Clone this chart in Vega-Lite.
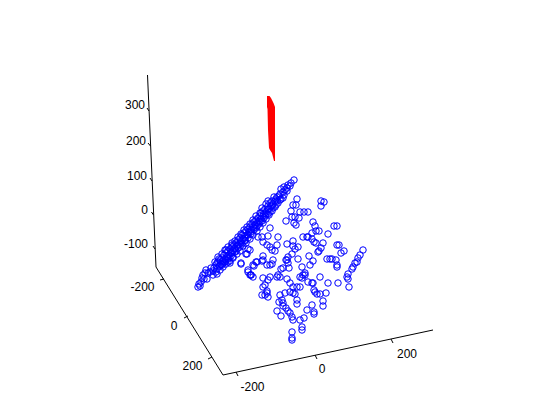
{"$schema":"https://vega.github.io/schema/vega-lite/v6.json","width":560,"height":420,"autosize":{"type":"fit","contains":"padding"},"padding":0,"background":"white","config":{"view":{"stroke":null}},
"datasets":{
"red":[{"v":96,"a":267,"b":269.5},{"v":98,"a":267,"b":271},{"v":100,"a":267,"b":272},{"v":103,"a":267,"b":273.5},{"v":107,"a":267,"b":275},{"v":109,"a":267.5,"b":275},{"v":130,"a":268,"b":275},{"v":148,"a":269,"b":275},{"v":150,"a":270,"b":275},{"v":153,"a":272,"b":275},{"v":157,"a":273,"b":275},{"v":161,"a":274,"b":275}],
"axes":[{"a":147.5,"b":75,"c":156,"d":267},{"a":156,"b":267,"c":223,"d":375},{"a":223,"b":375,"c":433,"d":330},
{"a":147,"b":108,"c":149,"d":111},{"a":148,"b":143,"c":150.5,"d":146},{"a":150,"b":178,"c":152,"d":181},{"a":151.5,"b":212,"c":153.5,"d":215},{"a":153,"b":246,"c":155,"d":249},
{"a":160,"b":280,"c":164,"d":279},{"a":184,"b":318,"c":188,"d":316},{"a":208,"b":359,"c":212,"d":357},
{"a":236,"b":372,"c":238,"d":376},{"a":315,"b":355,"c":317,"d":359},{"a":391,"b":339,"c":393,"d":343}],
"zlab":[{"a":145,"b":105,"t":"300"},{"a":146,"b":141,"t":"200"},{"a":147,"b":176,"t":"100"},{"a":148,"b":210,"t":"0"},{"a":148,"b":244,"t":"-100"}],
"xylab":[{"a":142.5,"b":287,"t":"-200"},{"a":174,"b":326,"t":"0"},{"a":192.5,"b":366,"t":"200"},{"a":252.5,"b":387,"t":"-200"},{"a":322,"b":369,"t":"0"},{"a":407,"b":354,"t":"200"}],
"blue":[[321,201],[324,202],[321,206],[297,199],[293,205],[296,205],[291,211],[300,212],[304,212],[308,212],[286,221],[292,217],[295,217],[299,218],[294,223],[296,225],[313,222],[315,226],[312,233],[316,231],[319,231],[328,234],[334,226],[337,226],[303,237],[307,237],[308,237],[312,239],[314,242],[316,243],[323,243],[321,248],[319,251],[318,252],[337,245],[339,245],[344,251],[341,253],[363,250],[360,255],[358,258],[357,262],[355,263],[353,267],[352,269],[348,274],[347,277],[348,279],[349,287],[338,283],[328,283],[320,277],[308,282],[313,283],[270,228],[278,237],[287,244],[293,241],[293,246],[298,247],[295,249],[292,254],[298,259],[309,256],[313,261],[310,265],[327,259],[330,259],[332,259],[336,260],[337,265],[337,267],[288,257],[287,260],[286,260],[288,263],[289,268],[283,268],[281,269],[278,275],[277,277],[280,277],[273,260],[270,265],[263,260],[263,256],[256,262],[254,266],[267,265],[251,275],[253,277],[263,278],[270,277],[268,280],[265,285],[263,287],[287,279],[290,283],[293,287],[300,287],[297,287],[302,267],[305,273],[303,275],[300,277],[302,278],[305,275],[312,283],[262,237],[263,242],[267,245],[270,247],[272,250],[275,251],[277,245],[250,250],[258,237],[268,236],[248,249],[246,254],[241,264],[262,261],[257,262],[253,265],[272,264],[248,272],[250,275],[267,291],[267,293],[262,295],[265,295],[268,297],[280,295],[285,293],[290,292],[293,293],[295,294],[314,290],[315,292],[317,294],[320,294],[326,293],[323,301],[323,306],[312,305],[307,310],[314,312],[314,314],[279,302],[282,300],[283,303],[283,306],[297,300],[297,304],[277,311],[281,316],[286,308],[288,311],[290,313],[292,317],[293,320],[300,320],[304,318],[302,327],[302,330],[292,332],[292,338],[292,340],
[294,180],[291,183],[288,185],[290,186],[287,188],[285,190],[284,187],[281,189],[283,192],[280,194],[277,197],[279,196],[276,199],[274,197],[272,201],[275,201],[270,203],[273,204],[268,206],[271,206],[265,209],[268,209],[263,211],[266,212],[261,213],[264,214],[260,216],[263,216],[258,218],[261,219],[256,220],[259,221],[254,222],[257,223],[252,224],[255,225],[250,227],[253,227],[248,229],[251,230],[246,231],[249,232],[244,233],[247,235],[242,235],[245,236],[240,238],[243,239],[238,240],[241,241],[236,243],[239,244],[234,245],[237,246],[232,247],[235,248],[230,249],[233,251],[228,251],[231,253],[226,253],[229,255],[224,255],[227,257],[222,258],[225,259],[220,260],[223,261],[218,262],[221,264],[216,265],[219,266],[214,268],[217,269],[213,271],[216,272],[228,262],[233,257],[240,247],[236,251],[245,240],[232,245],[226,250],[218,257],[198,287],[201,282],[205,273],[208,273],[202,278],[207,279],[213,275],[217,263],[200,286],[210,272],[203,275],[230,263],[241,263],[247,254],[248,270],[251,275],[211,268],[199,284],[204,279],[206,270],
[287,191],[284,195],[281,199],[278,203],[275,207],[272,211],[269,215],[266,219],[263,223],[260,227],[257,231],[253,235],[250,239],[246,243],[243,246],[240,251],[237,254],[233,258],[230,261],[226,264],[223,267],[220,270],[217,274],
[283,198],[280,200],[277,201],[276,205],[273,208],[270,212],[268,214],[265,216],[262,221],[259,224],[256,228],[254,230],[251,234],[248,238],[245,241],[242,244],[238,248],[235,252],[231,256],[228,259],[225,262],[222,265],
[272,206],[269,209],[266,214],[264,218],[260,222],[257,226],[254,228],[251,232],[248,235],[245,238],[241,243],[238,245],[235,249],[232,253],[229,257],[226,260],[223,263],[220,266],
[268,201],[266,204],[262,208],[260,213],[256,216],[253,220],[250,224],[247,227],[244,230],[241,234],[238,237],[235,241],[232,243],[228,247],[225,250],[222,254],[219,259],[215,262]]
},
"data":{"name":"red"},
"encoding":{},
"layer":[
{"data":{"name":"axes"},"mark":{"type":"rule","color":"black","strokeWidth":1},"encoding":{"x":{"field":"a","type":"quantitative","scale":{"domain":[0,560],"nice":false,"zero":false},"axis":null},"y":{"field":"b","type":"quantitative","scale":{"domain":[420,0],"nice":false,"zero":false},"axis":null},"x2":{"field":"c"},"y2":{"field":"d"}}},
{"data":{"name":"red"},"mark":{"type":"area","orient":"horizontal","color":"#ff0000"},"encoding":{"y":{"field":"v","type":"quantitative","scale":{"domain":[420,0],"nice":false,"zero":false},"axis":null},"x":{"field":"a","type":"quantitative","scale":{"domain":[0,560],"nice":false,"zero":false},"axis":null},"x2":{"field":"b"}}},
{"data":{"name":"blue"},"transform":[{"calculate":"datum[0]","as":"a"},{"calculate":"datum[1]","as":"b"}],"mark":{"type":"point","shape":"circle","filled":false,"color":"#0000ff","size":42,"strokeWidth":1,"opacity":1},"encoding":{"x":{"field":"a","type":"quantitative","scale":{"domain":[0,560],"nice":false,"zero":false},"axis":null},"y":{"field":"b","type":"quantitative","scale":{"domain":[420,0],"nice":false,"zero":false},"axis":null}}},
{"data":{"name":"zlab"},"mark":{"type":"text","align":"right","baseline":"middle","font":"Liberation Sans","fontSize":12,"color":"black"},"encoding":{"x":{"field":"a","type":"quantitative","scale":{"domain":[0,560],"nice":false,"zero":false},"axis":null},"y":{"field":"b","type":"quantitative","scale":{"domain":[420,0],"nice":false,"zero":false},"axis":null},"text":{"field":"t"}}},
{"data":{"name":"xylab"},"mark":{"type":"text","align":"center","baseline":"middle","font":"Liberation Sans","fontSize":12,"color":"black"},"encoding":{"x":{"field":"a","type":"quantitative","scale":{"domain":[0,560],"nice":false,"zero":false},"axis":null},"y":{"field":"b","type":"quantitative","scale":{"domain":[420,0],"nice":false,"zero":false},"axis":null},"text":{"field":"t"}}}
]}
